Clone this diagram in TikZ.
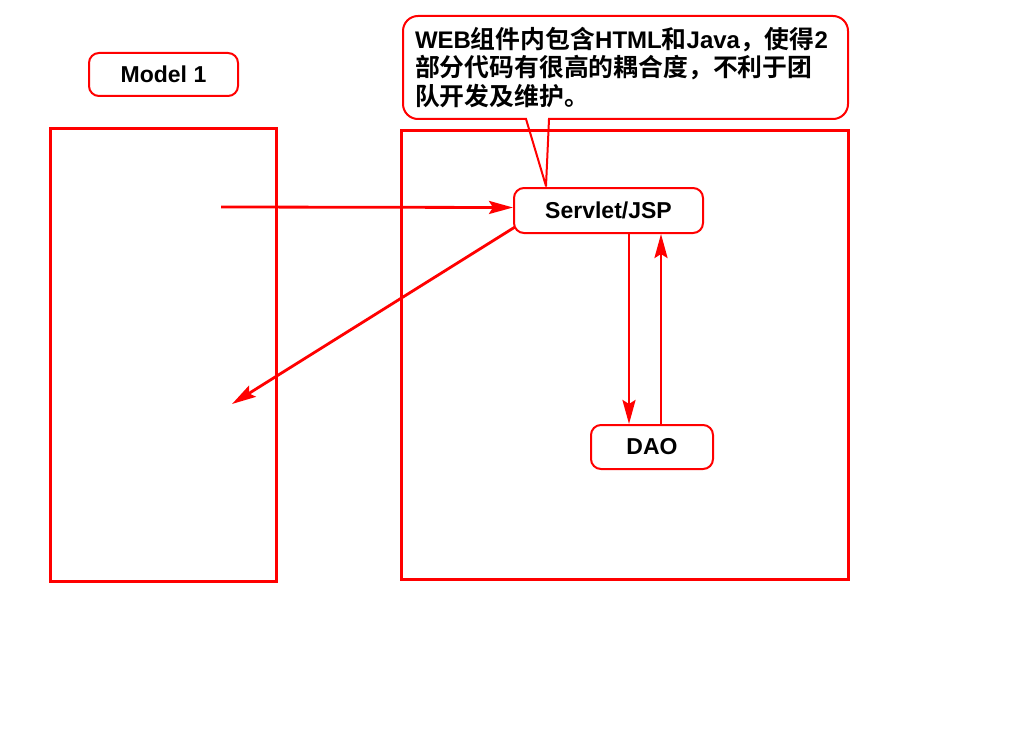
\documentclass[tikz,border=0pt]{standalone}
\usepackage{fontspec}
\setmainfont{Liberation Sans}
\newfontfamily\cjk{Noto Sans CJK SC}[BoldFont={Noto Sans CJK SC Bold},Scale=1.035]
\usetikzlibrary{arrows.meta,positioning}

\begin{document}
\begin{tikzpicture}[x=1pt,y=-1pt,
    frame/.style={draw=red, line width=3pt, inner sep=0pt},
    tag/.style={draw=red, line width=2pt, rounded corners=10pt, fill=white,
      font=\fontsize{23}{26}\selectfont\bfseries},
    flow/.style={draw=red, line width=2.8pt, -{Stealth[length=24pt,width=13pt,inset=4pt]}}]
      \useasboundingbox (0,0) rectangle (1024,738);

      \node [frame, minimum width=226pt, minimum height=452pt] (view) at (163,355) {};
      \node [frame, minimum width=447pt, minimum height=448pt] (server) at (624.5,355) {};

      \node [tag, minimum width=149pt, minimum height=43pt] (model) at (163.5,74.5) {Model 1};
      \node [tag, minimum width=189pt, minimum height=45pt] (servlet) at (608.5,210.5) {Servlet/JSP};
      \node [tag, minimum width=122pt, minimum height=44pt] (dao) at (652,447) {DAO};

      % callout
      \node [tag, rounded corners=15pt, minimum width=445pt, minimum height=103pt,
        inner xsep=12pt, text width=421pt, align=left,
        font=\fontsize{24}{28.5}\selectfont\bfseries] (note) at (625.5,67.5)
        {WEB{\cjk 组件内包含}HTML{\cjk 和}Java{\cjk ，使得}2\\
         {\cjk 部分代码有很高的耦合度，不利于团}\\
         {\cjk 队开发及维护。}};
      \coordinate (tipL) at (526,119);
      \coordinate (tipR) at (549,119);
      \coordinate (tip) at (546,186);
      \draw [white, line width=3pt] ([xshift=1pt]tipL) -- ([xshift=-1pt]tipR);
      \draw [red, line width=2pt, line join=round] (tipL) -- (tip) -- (tipR);

      \coordinate (cin) at (221,207);
      \coordinate (cout) at (232,404);
      \draw [flow] (cin) -- ([yshift=3pt]servlet.west);
      \draw [flow] ([shift={(2,-7)}]servlet.south west) -- (cout);
      \draw [flow] ([xshift=20.5pt]servlet.south) -- ([xshift=20.5pt]servlet.south |- dao.north);
      \draw [flow] ([xshift=52.5pt]servlet.south |- dao.north) -- ([xshift=52.5pt]servlet.south);
    \end{tikzpicture}
\end{document}
